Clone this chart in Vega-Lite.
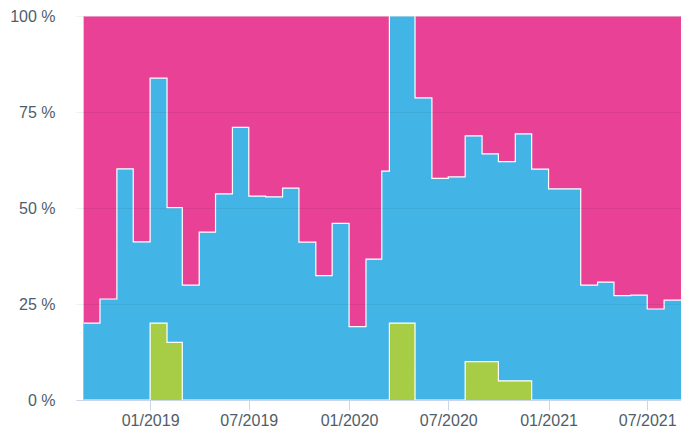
{
  "$schema": "https://vega.github.io/schema/vega-lite/v6.json",
  "width": 605,
  "height": 384,
  "autosize": {"type": "none"},
  "padding": {"left": 76, "top": 16, "right": 0, "bottom": 32},
  "background": "white",
  "config": {
    "view": {"stroke": null},
    "font": "Liberation Sans",
    "axis": {"labelFont": "Liberation Sans", "labelFontSize": 16, "labelColor": "#4f5d6b"}
  },
  "data": {
    "values": [
      {"date": "2018-09-01", "total": 100, "share": 20.0, "part": 0},
      {"date": "2018-10-01", "total": 100, "share": 26.3, "part": 0},
      {"date": "2018-11-01", "total": 100, "share": 60.2, "part": 0},
      {"date": "2018-12-01", "total": 100, "share": 41.2, "part": 0},
      {"date": "2019-01-01", "total": 100, "share": 83.8, "part": 20},
      {"date": "2019-02-01", "total": 100, "share": 50.1, "part": 15},
      {"date": "2019-03-01", "total": 100, "share": 29.9, "part": 0},
      {"date": "2019-04-01", "total": 100, "share": 43.7, "part": 0},
      {"date": "2019-05-01", "total": 100, "share": 53.7, "part": 0},
      {"date": "2019-06-01", "total": 100, "share": 71.0, "part": 0},
      {"date": "2019-07-01", "total": 100, "share": 53.1, "part": 0},
      {"date": "2019-08-01", "total": 100, "share": 52.9, "part": 0},
      {"date": "2019-09-01", "total": 100, "share": 55.2, "part": 0},
      {"date": "2019-10-01", "total": 100, "share": 41.1, "part": 0},
      {"date": "2019-11-01", "total": 100, "share": 32.4, "part": 0},
      {"date": "2019-12-01", "total": 100, "share": 46.0, "part": 0},
      {"date": "2020-01-01", "total": 100, "share": 19.1, "part": 0},
      {"date": "2020-02-01", "total": 100, "share": 36.7, "part": 0},
      {"date": "2020-03-01", "total": 100, "share": 59.6, "part": 0},
      {"date": "2020-03-15", "total": 100, "share": 100, "part": 20},
      {"date": "2020-05-01", "total": 100, "share": 78.7, "part": 0},
      {"date": "2020-06-01", "total": 100, "share": 57.7, "part": 0},
      {"date": "2020-07-01", "total": 100, "share": 58.1, "part": 0},
      {"date": "2020-08-01", "total": 100, "share": 68.8, "part": 10},
      {"date": "2020-09-01", "total": 100, "share": 64.1, "part": 10},
      {"date": "2020-10-01", "total": 100, "share": 62.1, "part": 5},
      {"date": "2020-11-01", "total": 100, "share": 69.3, "part": 5},
      {"date": "2020-12-01", "total": 100, "share": 60.1, "part": 0},
      {"date": "2021-01-01", "total": 100, "share": 55.0, "part": 0},
      {"date": "2021-02-01", "total": 100, "share": 55.0, "part": 0},
      {"date": "2021-03-01", "total": 100, "share": 29.9, "part": 0},
      {"date": "2021-04-01", "total": 100, "share": 30.7, "part": 0},
      {"date": "2021-05-01", "total": 100, "share": 27.2, "part": 0},
      {"date": "2021-06-01", "total": 100, "share": 27.3, "part": 0},
      {"date": "2021-07-01", "total": 100, "share": 23.7, "part": 0},
      {"date": "2021-08-01", "total": 100, "share": 26.0, "part": 0},
      {"date": "2021-09-01", "total": 100, "share": 26.0, "part": 0}
    ]
  },
  "encoding": {
    "x": {
      "field": "date",
      "type": "temporal",
      "title": null,
      "scale": {"type": "utc", "domain": ["2018-08-18", "2021-09-01"]},
      "axis": {
        "format": "%m/%Y",
        "values": [
          {"year": 2019, "month": 1, "date": 1, "utc": true},
          {"year": 2019, "month": 7, "date": 1, "utc": true},
          {"year": 2020, "month": 1, "date": 1, "utc": true},
          {"year": 2020, "month": 7, "date": 1, "utc": true},
          {"year": 2021, "month": 1, "date": 1, "utc": true},
          {"year": 2021, "month": 7, "date": 1, "utc": true}
        ],
        "grid": false,
        "domainColor": "#ccd6eb",
        "tickColor": "#ccd6eb",
        "tickSize": 10,
        "labelPadding": 2,
        "labelAngle": 0,
        "labelFlush": false,
        "zindex": 1
      }
    }
  },
  "layer": [
    {
      "mark": {"type": "area", "interpolate": "step-after", "color": "#e84196", "opacity": 1, "line": {"color": "white", "strokeWidth": 1.2}},
      "encoding": {
        "y": {
          "field": "total",
          "type": "quantitative",
          "title": null,
          "scale": {"domain": [0, 100], "nice": false},
          "axis": {
            "values": [0, 25, 50, 75, 100],
            "labelExpr": "datum.value + ' %'",
            "domain": false,
            "ticks": false,
            "grid": true,
            "gridColor": "#000000",
            "gridOpacity": 0.055,
            "labelPadding": 21,
            "zindex": 1
          }
        }
      }
    },
    {
      "mark": {"type": "area", "interpolate": "step-after", "color": "#42b4e5", "opacity": 1, "line": {"color": "white", "strokeWidth": 1.2}},
      "encoding": {"y": {"field": "share", "type": "quantitative"}}
    },
    {
      "mark": {"type": "area", "interpolate": "step-after", "color": "#a6cd45", "opacity": 1, "line": {"color": "white", "strokeWidth": 1.2}},
      "encoding": {"y": {"field": "part", "type": "quantitative"}}
    }
  ]
}
